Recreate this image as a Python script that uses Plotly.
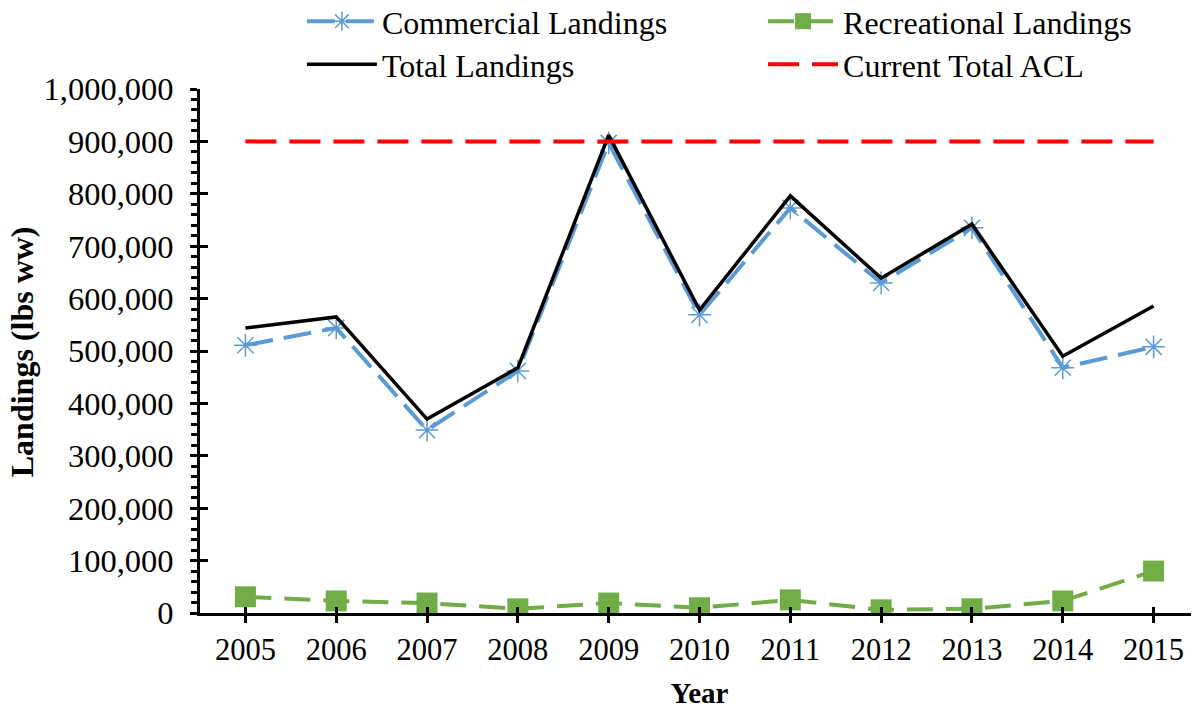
import plotly.graph_objects as go

years = [2005, 2006, 2007, 2008, 2009, 2010, 2011, 2012, 2013, 2014, 2015]
commercial = [511000, 544000, 349000, 462000, 897000, 569000, 773000, 630000, 735000, 468000, 508000]
recreational = [31000, 23000, 19000, 8000, 19000, 10000, 25000, 6000, 8000, 23000, 80000]
total = [544000, 565000, 370000, 468000, 912000, 578000, 796000, 639000, 742000, 490000, 586000]
acl = [900000] * len(years)

FONT = "Liberation Serif, Times New Roman, serif"
XR = [2004.5, 2015.5]
YR = [0, 1000000]

fig = go.Figure()
fig.add_trace(go.Scatter(
    x=years, y=commercial, name="Commercial Landings", mode="lines+markers",
    line=dict(color="#5B9BD5", width=4, dash="28px,11px"),
    marker=dict(symbol="asterisk-open", size=19, line=dict(color="#5B9BD5", width=1.5)),
    legend="legend"))
fig.add_trace(go.Scatter(
    x=years, y=recreational, name="Recreational Landings", mode="lines+markers",
    line=dict(color="#70AD47", width=4, dash="26px,13px"),
    marker=dict(symbol="square", size=21, color="#70AD47"),
    legend="legend2"))
fig.add_trace(go.Scatter(
    x=years, y=total, name="Total Landings", mode="lines",
    line=dict(color="black", width=3.5),
    legend="legend3"))
fig.add_trace(go.Scatter(
    x=years, y=acl, name="Current Total ACL", mode="lines",
    line=dict(color="#FF0000", width=4, dash="31px,13px"),
    legend="legend4"))
# invisible helper trace so the overlay axes (inner half of crossing ticks) are drawn
fig.add_trace(go.Scatter(
    x=years, y=acl, mode="lines", opacity=0, showlegend=False, hoverinfo="skip",
    xaxis="x2", yaxis="y2"))

leg_common = dict(orientation="h", itemwidth=70,
                  font=dict(family=FONT, size=32, color="black"),
                  xanchor="left", yanchor="middle", bgcolor="rgba(0,0,0,0)")

col1, col2 = 0.102, 0.5636
row1, row2 = 1.129, 1.047

fig.update_layout(
    width=1191, height=701,
    margin=dict(l=192, r=0, t=81, b=96, autoexpand=False),
    plot_bgcolor="white", paper_bgcolor="white",
    font=dict(family=FONT, size=30, color="black"),
    showlegend=True,
    legend=dict(x=col1, y=row1, **leg_common),
    legend2=dict(x=col2, y=row1, **leg_common),
    legend3=dict(x=col1, y=row2, **leg_common),
    legend4=dict(x=col2, y=row2, **leg_common),
    xaxis=dict(
        range=XR, tickvals=years, ticktext=[str(y) for y in years],
        showline=True, linecolor="black", linewidth=3,
        ticks="outside", ticklen=7, tickwidth=3, tickcolor="black",
        showgrid=False, zeroline=False,
        tickfont=dict(family=FONT, size=30.5),
        title=dict(text="<b>Year</b>", font=dict(family=FONT, size=29), standoff=18),
    ),
    yaxis=dict(
        range=YR, dtick=100000, tickformat=",",
        showline=True, linecolor="black", linewidth=3,
        ticks="outside", ticklen=7, tickwidth=3, tickcolor="black",
        minor=dict(dtick=20000, ticks="outside", ticklen=6, tickwidth=2.5, tickcolor="black"),
        showgrid=False, zeroline=False,
        ticklabelstandoff=10,
        tickfont=dict(family=FONT, size=32.5),
    ),
    xaxis2=dict(
        range=XR, overlaying="x", tickvals=years, showticklabels=False,
        ticks="inside", ticklen=6, tickwidth=3, tickcolor="black",
        showline=False, showgrid=False, zeroline=False,
    ),
    yaxis2=dict(
        range=YR, overlaying="y", dtick=100000, showticklabels=False,
        ticks="inside", ticklen=8, tickwidth=3, tickcolor="black",
        showline=False, showgrid=False, zeroline=False,
    ),
    annotations=[dict(
        text="<b>Landings (lbs ww)</b>", textangle=-90, showarrow=False,
        xref="paper", yref="paper", x=-0.178, y=0.498,
        xanchor="center", yanchor="middle",
        font=dict(family=FONT, size=32, color="black"),
    )],
)

fig.write_html("out.html")
